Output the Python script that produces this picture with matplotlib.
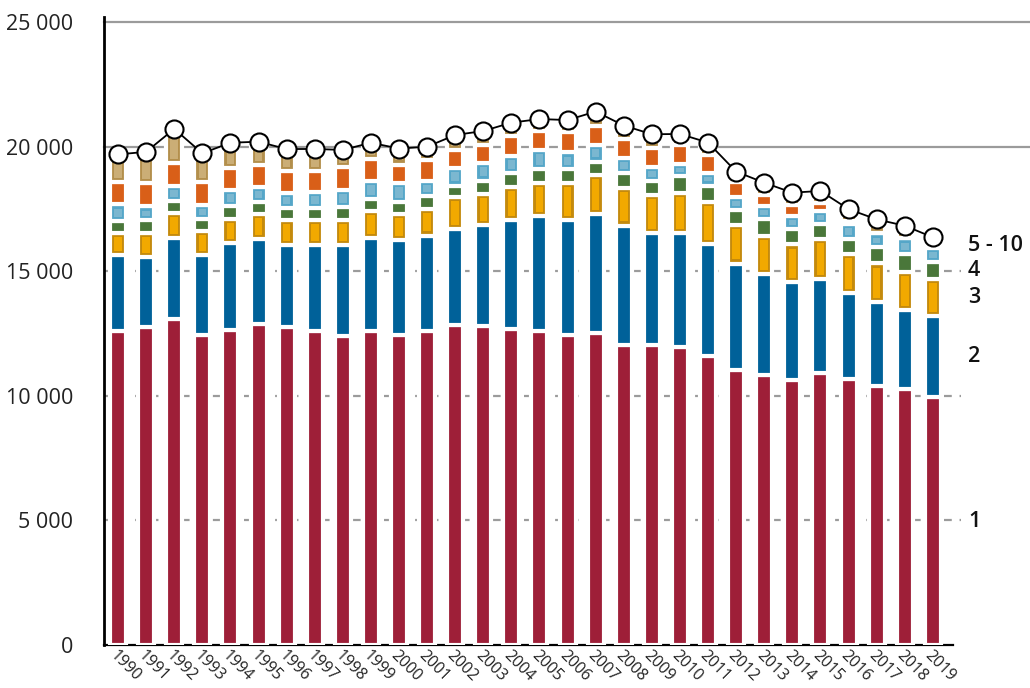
import numpy as np
import matplotlib.pyplot as plt

plt.rcParams['font.family'] = ['Open Sans', 'DejaVu Sans']

years = [str(y) for y in range(1990, 2020)]

# households by number of persons (stacked segments, bottom to top)
persons_1 = [12600, 12770, 13070, 12440, 12640, 12880, 12770, 12590, 12400, 12600,
             12450, 12590, 12840, 12790, 12680, 12600, 12450, 12510, 12050, 12040,
             11960, 11600, 11040, 10840, 10630, 10915, 10690, 10390, 10270, 9940]
persons_2 = [3060, 2780, 3250, 3210, 3490, 3400, 3290, 3450, 3640, 3730,
             3810, 3840, 3865, 4065, 4360, 4600, 4590, 4800, 4780, 4480,
             4560, 4490, 4265, 4050, 3920, 3775, 3425, 3370, 3185, 3275]
persons_3 = [880, 980, 1000, 950, 965, 1000, 980, 1000, 1000, 1070,
             1030, 1070, 1260, 1230, 1325, 1350, 1510, 1540, 1525, 1540,
             1620, 1675, 1555, 1525, 1525, 1605, 1565, 1550, 1525, 1475]
persons_4 = [470, 530, 500, 495, 520, 480, 480, 480, 550, 495,
             480, 520, 470, 550, 590, 560, 560, 550, 590, 560,
             680, 670, 600, 680, 630, 600, 615, 645, 720, 680]
persons_5 = [670, 540, 615, 575, 630, 630, 630, 670, 670, 720,
             775, 615, 695, 695, 655, 765, 655, 680, 600, 550,
             480, 520, 520, 520, 520, 535, 590, 560, 615, 560]
persons_6 = [895, 920, 900, 895, 895, 880, 855, 830, 910, 885,
             735, 840, 735, 735, 830, 760, 805, 765, 765, 790,
             750, 725, 600, 440, 445, 325, 135, 0, 0, 135]
persons_7_10 = [1110, 1270, 1375, 1165, 1015, 925, 895, 885, 695, 655,
                640, 520, 600, 560, 520, 470, 495, 560, 535, 535,
                455, 480, 415, 495, 480, 465, 470, 565, 510, 295]

series = [persons_1, persons_2, persons_3, persons_4, persons_5, persons_6, persons_7_10]
# (outer colour, inner colour or None)
colors = [('#9e1f38', None), ('#006199', None), ('#c48a0c', '#f2a900'),
          ('#4a773a', None), ('#55a6c8', '#7bb7d0'), ('#d95f18', None),
          ('#b38f4c', '#cbae76')]

ytick_vals = [0, 5000, 10000, 15000, 20000, 25000]
ytick_labels = ['0', '5 000', '10 000', '15 000', '20 000', '25 000']

fig = plt.figure(figsize=(10.3, 6.88), dpi=100)
ax = fig.add_axes([0.101, 0.0625, 0.824, 0.9128])

x = np.arange(len(years))
bottom = np.zeros(len(years))
pad = 165
for vals, (col, inner) in zip(series, colors):
    vals = np.array(vals, dtype=float)
    ax.bar(x, vals, bottom=bottom, width=0.57, color=col,
           edgecolor='white', linewidth=3, zorder=3)
    if inner:
        h = vals - 2 * pad
        ok = h > 0
        ax.bar(x[ok], h[ok], bottom=bottom[ok] + pad, width=0.27,
               color=inner, linewidth=0, zorder=4)
    bottom += vals

ax.plot(x, bottom, color='black', lw=1.3, marker='o', ms=13,
        mfc='white', mec='black', mew=1.5, zorder=5)

# grid
for v in [20000, 25000]:
    ax.axhline(v, xmax=1.09, color='#9b9b9b', lw=1.6, zorder=1, clip_on=False)
for v in [5000, 10000, 15000]:
    ax.axhline(v, xmax=1.01, color='#9b9b9b', lw=1.6, dashes=(3.5, 3.5),
               zorder=1, clip_on=False)

ax.set_xlim(-0.5, 29.71)
ax.set_ylim(0, 25200)
ax.set_yticks(ytick_vals, ytick_labels, fontsize=15.5, color='#222222')
ax.set_xticks(x, years, rotation=-45, ha='left', va='top',
              rotation_mode='anchor', fontsize=11.5, color='#222222')
ax.tick_params(axis='y', length=0, pad=22)
ax.tick_params(axis='x', length=0, pad=2)

for s in ['top', 'right']:
    ax.spines[s].set_visible(False)
ax.spines['left'].set_linewidth(2)
ax.spines['bottom'].set_linewidth(1.6)

# right-hand labels at the 2019 segment midpoints
last = [s[-1] for s in series]
cum = np.cumsum(last)
label_pos = [cum[0] / 2, (cum[0] + cum[1]) / 2, (cum[1] + cum[2]) / 2,
             (cum[2] + cum[3]) / 2, (cum[3] + cum[6]) / 2 + 150]
label_txt = ['1', '2', '3', '4', '5 - 10']
for t, yv in zip(label_txt, label_pos):
    ax.text(30.25, yv, t, fontsize=15.5, fontweight='semibold', color='#111111',
            ha='left', va='center', clip_on=False)

fig.savefig('out.png', dpi=100)
